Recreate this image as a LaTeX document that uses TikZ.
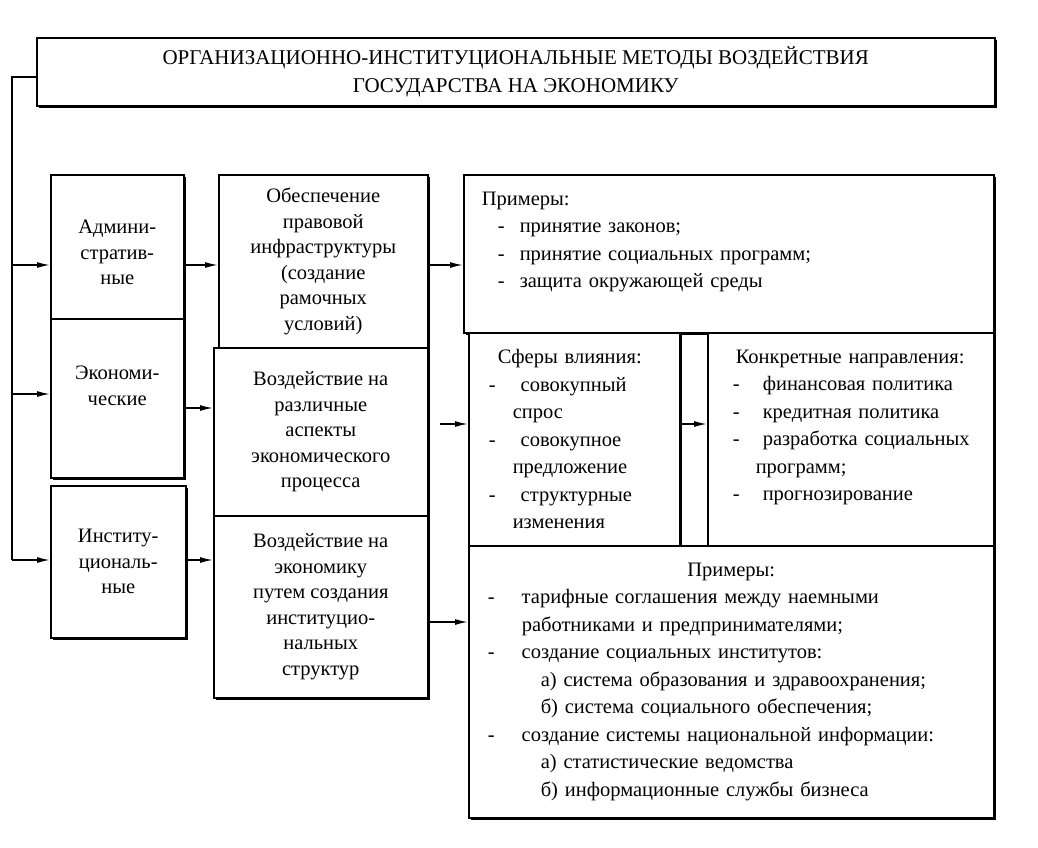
\documentclass[tikz,border=0pt]{standalone}
\usepackage{fontspec}
\setmainfont{Liberation Serif}
\usepackage{tikz}
\usetikzlibrary{arrows.meta, shadows}
\newcommand{\dashitem}[2]{\makebox[#1][l]{-}#2}

\begin{document}
\begin{tikzpicture}[x=1pt, y=-1pt,
  box/.style={draw, line width=1.5pt, fill=white, anchor=north west, inner sep=0pt,
    drop shadow={shadow xshift=1.8pt, shadow yshift=-1.8pt, fill=black, opacity=1}},
  mid/.style={box, align=center, font=\fontsize{20.5}{25.5}\selectfont},
  lst/.style={box, align=left, font=\fontsize{20.5}{27.5}\selectfont},
  arr/.style={line width=1.5pt, -{Latex[length=13pt, width=6pt]}},
]
  \useasboundingbox (0,0) rectangle (1038,847);

  \node[box, align=center, font=\fontsize{21}{28}\selectfont,
    minimum width=958pt, minimum height=68pt] (title) at (36,37)
    {ОРГАНИЗАЦИОННО-ИНСТИТУЦИОНАЛЬНЫЕ МЕТОДЫ ВОЗДЕЙСТВИЯ\\
     ГОСУДАРСТВА НА ЭКОНОМИКУ};

  \node[mid, minimum width=133pt, minimum height=144pt] (adm) at (50,174)
    {\mbox{}\\Админи-\\стратив-\\ные};
  \node[mid, minimum width=133pt, minimum height=159pt] (eco) at (50,318)
    {Экономи-\\ческие\\\mbox{}};
  \node[mid, minimum width=135pt, minimum height=152pt] (inst) at (50,485)
    {Институ-\\циональ-\\ные};

  \node[mid, minimum width=209pt, minimum height=173pt] (legal) at (218,174)
    {Обеспечение\\правовой\\инфраструктуры\\(создание\\рамочных\\условий)};
  \node[mid, minimum width=214pt, minimum height=168pt] (aspect) at (213,347)
    {Воздействие на\\различные\\аспекты\\экономического\\процесса};
  \node[mid, minimum width=214pt, minimum height=182pt] (struct) at (213,515)
    {Воздействие на\\экономику\\путем создания\\институцио-\\нальных\\структур};

  \node[lst, minimum width=530pt, minimum height=158pt, inner xsep=18pt,
    text width=494pt] (ex1) at (463,174)
    {Примеры:\\
     \hspace*{16pt}\dashitem{22pt}{принятие законов;}\\
     \hspace*{16pt}\dashitem{22pt}{принятие социальных программ;}\\
     \hspace*{16pt}\dashitem{22pt}{защита окружающей среды}\\
     \mbox{}};
  \node[lst, minimum width=211pt, minimum height=213pt, inner xsep=20pt,
    text width=171pt] (sph) at (468,332)
    {\hspace*{9pt}Сферы влияния:\\
     \dashitem{32pt}{совокупный}\\
     \hspace*{24pt}спрос\\
     \dashitem{32pt}{совокупное}\\
     \hspace*{24pt}предложение\\
     \dashitem{32pt}{структурные}\\
     \hspace*{24pt}изменения};
  \node[lst, minimum width=286pt, minimum height=213pt, inner xsep=12pt,
    text width=262pt] (dir) at (707,332)
    {\hspace*{16pt}Конкретные направления:\\
     \hspace*{13pt}\dashitem{30pt}{финансовая политика}\\
     \hspace*{13pt}\dashitem{30pt}{кредитная политика}\\
     \hspace*{13pt}\dashitem{30pt}{разработка социальных}\\
     \hspace*{36pt}программ;\\
     \hspace*{13pt}\dashitem{30pt}{прогнозирование}\\
     \mbox{}};
  \node[lst, minimum width=525pt, minimum height=272pt, inner xsep=19pt,
    text width=487pt] (ex2) at (468,545)
    {\makebox[\hsize]{Примеры:}\\
     \dashitem{34pt}{тарифные соглашения между наемными}\\
     \hspace*{34pt}работниками и предпринимателями;\\
     \dashitem{34pt}{создание социальных институтов:}\\
     \hspace*{53pt}а) система образования и здравоохранения;\\
     \hspace*{53pt}б) система социального обеспечения;\\
     \dashitem{34pt}{создание системы национальной информации:}\\
     \hspace*{53pt}а) статистические ведомства\\
     \hspace*{53pt}б) информационные службы бизнеса};

  \coordinate (top) at (12,77);
  \coordinate (r1) at (12,265);
  \coordinate (r2) at (12,394);
  \coordinate (r3) at (12,560);
  \coordinate (m2) at (0,408);
  \coordinate (m4) at (0,424);
  \coordinate (m5) at (0,622);

  \draw[line width=1.5pt] (title.west |- top) -- (top) -- (r3);
  \draw[arr] (r1) -- (adm.west |- r1);
  \draw[arr] (r2) -- (eco.west |- r2);
  \draw[arr] (r3) -- (inst.west |- r3);
  \draw[arr] (adm.east |- r1) -- (legal.west |- r1);
  \draw[arr] (eco.east |- m2) -- (aspect.west |- m2);
  \draw[arr] (inst.east |- r3) -- (struct.west |- r3);
  \draw[arr] (legal.east |- r1) -- (ex1.west |- r1);
  \draw[arr, shorten <=11pt] (aspect.east |- m4) -- (sph.west |- m4);
  \draw[arr] (sph.east |- m4) -- (dir.west |- m4);
  \draw[arr] (struct.east |- m5) -- (ex2.west |- m5);
\end{tikzpicture}
\end{document}
